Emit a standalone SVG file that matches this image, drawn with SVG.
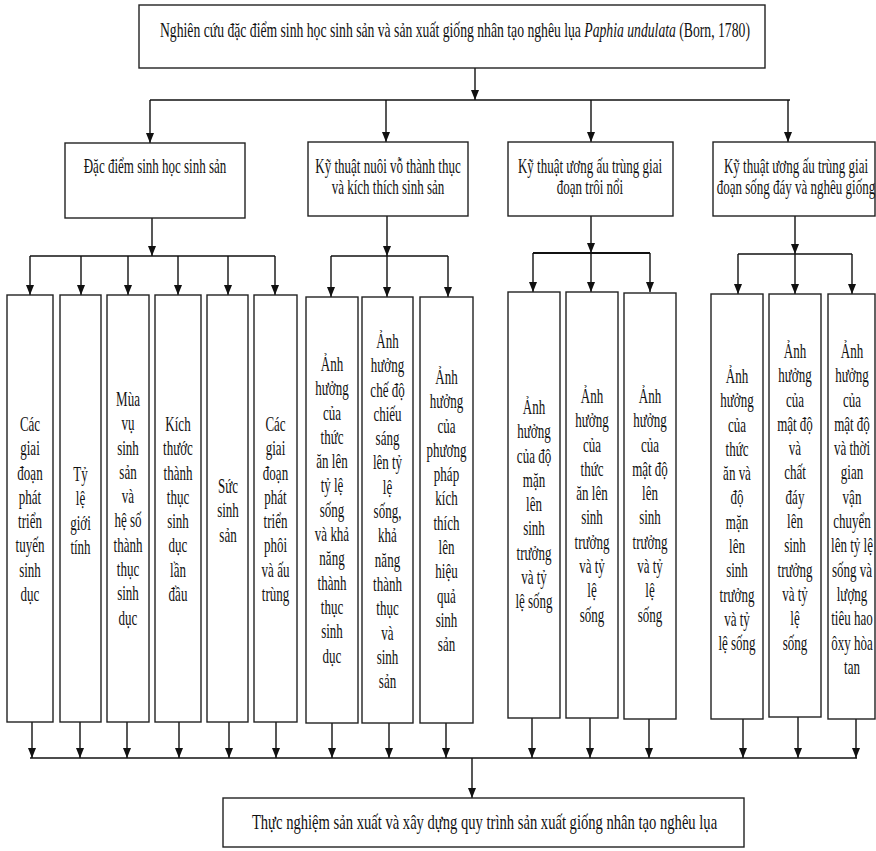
<svg xmlns="http://www.w3.org/2000/svg" width="876" height="851" viewBox="0 0 876 851">
<style>
.bx{fill:#fff;stroke:#222;stroke-width:1.4}
.ln{fill:none;stroke:#111;stroke-width:1.4}
.ar{fill:none;stroke:#111;stroke-width:1.4;marker-end:url(#ah)}
text{font-family:"Liberation Serif","Times New Roman",serif;fill:#111}
.t20{font-size:20px}
.t19{font-size:20px;text-anchor:middle}
</style>
<defs>
<marker id="ah" markerUnits="userSpaceOnUse" markerWidth="10" markerHeight="10" refX="10" refY="4" orient="auto">
<path d="M0,0 L10,4 L0,8 z" fill="#111"/>
</marker>
</defs>
<g id="connectors">
<line class="ar" x1="475" y1="68" x2="475" y2="100"/>
<line class="ln" x1="150" y1="100" x2="790" y2="100"/>
<line class="ar" x1="150" y1="100" x2="150" y2="143"/>
<line class="ar" x1="386" y1="100" x2="386" y2="142"/>
<line class="ar" x1="591" y1="100" x2="591" y2="142"/>
<line class="ar" x1="788" y1="100" x2="788" y2="142"/>
<line class="ar" x1="152" y1="218" x2="152" y2="256"/>
<line class="ln" x1="30" y1="256" x2="275" y2="256"/>
<line class="ar" x1="30" y1="256" x2="30" y2="295"/>
<line class="ar" x1="81" y1="256" x2="81" y2="295"/>
<line class="ar" x1="128" y1="256" x2="128" y2="295"/>
<line class="ar" x1="178" y1="256" x2="178" y2="295"/>
<line class="ar" x1="228" y1="256" x2="228" y2="295"/>
<line class="ar" x1="275" y1="256" x2="275" y2="295"/>
<line class="ar" x1="387" y1="216" x2="387" y2="256"/>
<line class="ln" x1="331" y1="256" x2="448" y2="256"/>
<line class="ar" x1="331" y1="256" x2="331" y2="297"/>
<line class="ar" x1="387" y1="256" x2="387" y2="297"/>
<line class="ar" x1="448" y1="256" x2="448" y2="297"/>
<line class="ar" x1="591" y1="216" x2="591" y2="253"/>
<line class="ln" x1="533" y1="253" x2="650" y2="253" style="stroke-width:2.2"/>
<line class="ar" x1="533" y1="253" x2="533" y2="292"/>
<line class="ar" x1="591" y1="253" x2="591" y2="292"/>
<line class="ar" x1="650" y1="253" x2="650" y2="292"/>
<line class="ar" x1="795" y1="216" x2="795" y2="254"/>
<line class="ln" x1="738" y1="254" x2="852" y2="254"/>
<line class="ar" x1="738" y1="254" x2="738" y2="294"/>
<line class="ar" x1="795" y1="254" x2="795" y2="294"/>
<line class="ar" x1="852" y1="254" x2="852" y2="294"/>
<line class="ar" x1="32" y1="722" x2="32" y2="758"/>
<line class="ar" x1="80" y1="722" x2="80" y2="758"/>
<line class="ar" x1="127" y1="722" x2="127" y2="758"/>
<line class="ar" x1="179" y1="722" x2="179" y2="758"/>
<line class="ar" x1="229" y1="722" x2="229" y2="758"/>
<line class="ar" x1="276" y1="722" x2="276" y2="758"/>
<line class="ar" x1="332" y1="723" x2="332" y2="758"/>
<line class="ar" x1="389" y1="723" x2="389" y2="758"/>
<line class="ar" x1="446" y1="723" x2="446" y2="758"/>
<line class="ar" x1="532" y1="718" x2="532" y2="758"/>
<line class="ar" x1="590" y1="718" x2="590" y2="758"/>
<line class="ar" x1="649" y1="719" x2="649" y2="758"/>
<line class="ar" x1="743" y1="719" x2="743" y2="758"/>
<line class="ar" x1="798" y1="717" x2="798" y2="758"/>
<line class="ar" x1="856" y1="719" x2="856" y2="758"/>
<line class="ln" x1="30" y1="758" x2="857" y2="758"/>
<line class="ar" x1="472" y1="758" x2="472" y2="798"/>
</g>
<g id="top">
<rect class="bx" x="139" y="5" width="626" height="63"/>
<text class="t20" transform="translate(160,0) scale(0.684,1)" x="0" y="37">Nghiên cứu đặc điểm sinh học sinh sản và sản xuất giống nhân tạo nghêu lụa <tspan font-style="italic">Paphia undulata</tspan> (Born, 1780)</text>
</g>
<g id="b1">
<rect class="bx" x="65" y="143" width="180" height="75"/>
<text class="t19" transform="translate(155,0) scale(0.65,1)"><tspan x="0" y="173">Đặc điểm sinh học sinh sản</tspan></text>
</g>
<g id="b2">
<rect class="bx" x="308" y="142" width="160" height="74"/>
<text class="t19" transform="translate(388,0) scale(0.65,1)"><tspan x="0" y="173">Kỹ thuật nuôi vỗ thành thục</tspan><tspan x="0" y="194">và kích thích sinh sản</tspan></text>
</g>
<g id="b3">
<rect class="bx" x="508" y="142" width="165" height="74"/>
<text class="t19" transform="translate(590,0) scale(0.65,1)"><tspan x="0" y="173">Kỹ thuật ương ấu trùng giai</tspan><tspan x="0" y="194">đoạn trôi nổi</tspan></text>
</g>
<g id="b4">
<rect class="bx" x="713" y="142" width="162" height="74"/>
<text class="t19" transform="translate(796,0) scale(0.65,1)"><tspan x="0" y="173">Kỹ thuật ương ấu trùng giai</tspan><tspan x="0" y="194">đoạn sống đáy và nghêu giống</tspan></text>
</g>
<g id="l1">
<rect class="bx" x="7" y="295" width="46" height="427"/>
<text class="t19" transform="translate(30,0) scale(0.65,1)"><tspan x="0" y="431">Các</tspan><tspan x="0" dy="24.3">giai</tspan><tspan x="0" dy="24.3">đoạn</tspan><tspan x="0" dy="24.3">phát</tspan><tspan x="0" dy="24.3">triển</tspan><tspan x="0" dy="24.3">tuyến</tspan><tspan x="0" dy="24.3">sinh</tspan><tspan x="0" dy="24.3">dục</tspan></text>
</g>
<g id="l2">
<rect class="bx" x="60" y="295" width="41" height="427"/>
<text class="t19" transform="translate(80.5,0) scale(0.65,1)"><tspan x="0" y="481">Tỷ</tspan><tspan x="0" dy="24.3">lệ</tspan><tspan x="0" dy="24.3">giới</tspan><tspan x="0" dy="24.3">tính</tspan></text>
</g>
<g id="l3">
<rect class="bx" x="107" y="295" width="42" height="427"/>
<text class="t19" transform="translate(128,0) scale(0.65,1)"><tspan x="0" y="406">Mùa</tspan><tspan x="0" dy="24.3">vụ</tspan><tspan x="0" dy="24.3">sinh</tspan><tspan x="0" dy="24.3">sản</tspan><tspan x="0" dy="24.3">và</tspan><tspan x="0" dy="24.3">hệ số</tspan><tspan x="0" dy="24.3">thành</tspan><tspan x="0" dy="24.3">thục</tspan><tspan x="0" dy="24.3">sinh</tspan><tspan x="0" dy="24.3">dục</tspan></text>
</g>
<g id="l4">
<rect class="bx" x="155" y="295" width="46" height="427"/>
<text class="t19" transform="translate(178,0) scale(0.65,1)"><tspan x="0" y="431">Kích</tspan><tspan x="0" dy="24.3">thước</tspan><tspan x="0" dy="24.3">thành</tspan><tspan x="0" dy="24.3">thục</tspan><tspan x="0" dy="24.3">sinh</tspan><tspan x="0" dy="24.3">dục</tspan><tspan x="0" dy="24.3">lần</tspan><tspan x="0" dy="24.3">đầu</tspan></text>
</g>
<g id="l5">
<rect class="bx" x="207" y="295" width="41" height="427"/>
<text class="t19" transform="translate(228,0) scale(0.65,1)"><tspan x="0" y="493">Sức</tspan><tspan x="0" dy="24.3">sinh</tspan><tspan x="0" dy="24.3">sản</tspan></text>
</g>
<g id="l6">
<rect class="bx" x="254" y="295" width="43" height="427"/>
<text class="t19" transform="translate(275.5,0) scale(0.65,1)"><tspan x="0" y="431">Các</tspan><tspan x="0" dy="24.3">giai</tspan><tspan x="0" dy="24.3">đoạn</tspan><tspan x="0" dy="24.3">phát</tspan><tspan x="0" dy="24.3">triển</tspan><tspan x="0" dy="24.3">phôi</tspan><tspan x="0" dy="24.3">và ấu</tspan><tspan x="0" dy="24.3">trùng</tspan></text>
</g>
<g id="l7">
<rect class="bx" x="306" y="297" width="52" height="426"/>
<text class="t19" transform="translate(332,0) scale(0.65,1)"><tspan x="0" y="371">Ảnh</tspan><tspan x="0" dy="24.3">hưởng</tspan><tspan x="0" dy="24.3">của</tspan><tspan x="0" dy="24.3">thức</tspan><tspan x="0" dy="24.3">ăn lên</tspan><tspan x="0" dy="24.3">tỷ lệ</tspan><tspan x="0" dy="24.3">sống</tspan><tspan x="0" dy="24.3">và khả</tspan><tspan x="0" dy="24.3">năng</tspan><tspan x="0" dy="24.3">thành</tspan><tspan x="0" dy="24.3">thục</tspan><tspan x="0" dy="24.3">sinh</tspan><tspan x="0" dy="24.3">dục</tspan></text>
</g>
<g id="l8">
<rect class="bx" x="362" y="297" width="51" height="426"/>
<text class="t19" transform="translate(387.5,0) scale(0.65,1)"><tspan x="0" y="348">Ảnh</tspan><tspan x="0" dy="24.3">hưởng</tspan><tspan x="0" dy="24.3">chế độ</tspan><tspan x="0" dy="24.3">chiếu</tspan><tspan x="0" dy="24.3">sáng</tspan><tspan x="0" dy="24.3">lên tỷ</tspan><tspan x="0" dy="24.3">lệ</tspan><tspan x="0" dy="24.3">sống,</tspan><tspan x="0" dy="24.3">khả</tspan><tspan x="0" dy="24.3">năng</tspan><tspan x="0" dy="24.3">thành</tspan><tspan x="0" dy="24.3">thục</tspan><tspan x="0" dy="24.3">và</tspan><tspan x="0" dy="24.3">sinh</tspan><tspan x="0" dy="24.3">sản</tspan></text>
</g>
<g id="l9">
<rect class="bx" x="420" y="297" width="53" height="426"/>
<text class="t19" transform="translate(446.5,0) scale(0.65,1)"><tspan x="0" y="384">Ảnh</tspan><tspan x="0" dy="24.3">hưởng</tspan><tspan x="0" dy="24.3">của</tspan><tspan x="0" dy="24.3">phương</tspan><tspan x="0" dy="24.3">pháp</tspan><tspan x="0" dy="24.3">kích</tspan><tspan x="0" dy="24.3">thích</tspan><tspan x="0" dy="24.3">lên</tspan><tspan x="0" dy="24.3">hiệu</tspan><tspan x="0" dy="24.3">quả</tspan><tspan x="0" dy="24.3">sinh</tspan><tspan x="0" dy="24.3">sản</tspan></text>
</g>
<g id="l10">
<rect class="bx" x="508" y="292" width="52" height="426"/>
<text class="t19" transform="translate(534,0) scale(0.65,1)"><tspan x="0" y="414">Ảnh</tspan><tspan x="0" dy="24.3">hưởng</tspan><tspan x="0" dy="24.3">của độ</tspan><tspan x="0" dy="24.3">mặn</tspan><tspan x="0" dy="24.3">lên</tspan><tspan x="0" dy="24.3">sinh</tspan><tspan x="0" dy="24.3">trưởng</tspan><tspan x="0" dy="24.3">và tỷ</tspan><tspan x="0" dy="24.3">lệ sống</tspan></text>
</g>
<g id="l11">
<rect class="bx" x="566" y="292" width="52" height="426"/>
<text class="t19" transform="translate(592,0) scale(0.65,1)"><tspan x="0" y="403">Ảnh</tspan><tspan x="0" dy="24.3">hưởng</tspan><tspan x="0" dy="24.3">của</tspan><tspan x="0" dy="24.3">thức</tspan><tspan x="0" dy="24.3">ăn lên</tspan><tspan x="0" dy="24.3">sinh</tspan><tspan x="0" dy="24.3">trưởng</tspan><tspan x="0" dy="24.3">và tỷ</tspan><tspan x="0" dy="24.3">lệ</tspan><tspan x="0" dy="24.3">sống</tspan></text>
</g>
<g id="l12">
<rect class="bx" x="624" y="293" width="52" height="426"/>
<text class="t19" transform="translate(650,0) scale(0.65,1)"><tspan x="0" y="403">Ảnh</tspan><tspan x="0" dy="24.3">hưởng</tspan><tspan x="0" dy="24.3">của</tspan><tspan x="0" dy="24.3">mật độ</tspan><tspan x="0" dy="24.3">lên</tspan><tspan x="0" dy="24.3">sinh</tspan><tspan x="0" dy="24.3">trưởng</tspan><tspan x="0" dy="24.3">và tỷ</tspan><tspan x="0" dy="24.3">lệ</tspan><tspan x="0" dy="24.3">sống</tspan></text>
</g>
<g id="l13">
<rect class="bx" x="711" y="294" width="52" height="425"/>
<text class="t19" transform="translate(737,0) scale(0.65,1)"><tspan x="0" y="383">Ảnh</tspan><tspan x="0" dy="24.3">hưởng</tspan><tspan x="0" dy="24.3">của</tspan><tspan x="0" dy="24.3">thức</tspan><tspan x="0" dy="24.3">ăn và</tspan><tspan x="0" dy="24.3">độ</tspan><tspan x="0" dy="24.3">mặn</tspan><tspan x="0" dy="24.3">lên</tspan><tspan x="0" dy="24.3">sinh</tspan><tspan x="0" dy="24.3">trưởng</tspan><tspan x="0" dy="24.3">và tỷ</tspan><tspan x="0" dy="24.3">lệ sống</tspan></text>
</g>
<g id="l14">
<rect class="bx" x="769" y="294" width="52" height="423"/>
<text class="t19" transform="translate(795,0) scale(0.65,1)"><tspan x="0" y="358">Ảnh</tspan><tspan x="0" dy="24.3">hưởng</tspan><tspan x="0" dy="24.3">của</tspan><tspan x="0" dy="24.3">mật độ</tspan><tspan x="0" dy="24.3">và</tspan><tspan x="0" dy="24.3">chất</tspan><tspan x="0" dy="24.3">đáy</tspan><tspan x="0" dy="24.3">lên</tspan><tspan x="0" dy="24.3">sinh</tspan><tspan x="0" dy="24.3">trưởng</tspan><tspan x="0" dy="24.3">và tỷ</tspan><tspan x="0" dy="24.3">lệ</tspan><tspan x="0" dy="24.3">sống</tspan></text>
</g>
<g id="l15">
<rect class="bx" x="828" y="294" width="47" height="425"/>
<text class="t19" transform="translate(852,0) scale(0.65,1)"><tspan x="0" y="358">Ảnh</tspan><tspan x="0" dy="24.3">hưởng</tspan><tspan x="0" dy="24.3">của</tspan><tspan x="0" dy="24.3">mật độ</tspan><tspan x="0" dy="24.3">và thời</tspan><tspan x="0" dy="24.3">gian</tspan><tspan x="0" dy="24.3">vận</tspan><tspan x="0" dy="24.3">chuyển</tspan><tspan x="0" dy="24.3">lên tỷ lệ</tspan><tspan x="0" dy="24.3">sống và</tspan><tspan x="0" dy="24.3">lượng</tspan><tspan x="0" dy="24.3">tiêu hao</tspan><tspan x="0" dy="24.3">ôxy hòa</tspan><tspan x="0" dy="24.3">tan</tspan></text>
</g>
<g id="bottom">
<rect class="bx" x="223" y="798" width="521" height="49"/>
<text class="t19" transform="translate(484.5,0) scale(0.73,1)" x="0" y="829">Thực nghiệm sản xuất và xây dựng quy trình sản xuất giống nhân tạo nghêu lụa</text>
</g>
</svg>
